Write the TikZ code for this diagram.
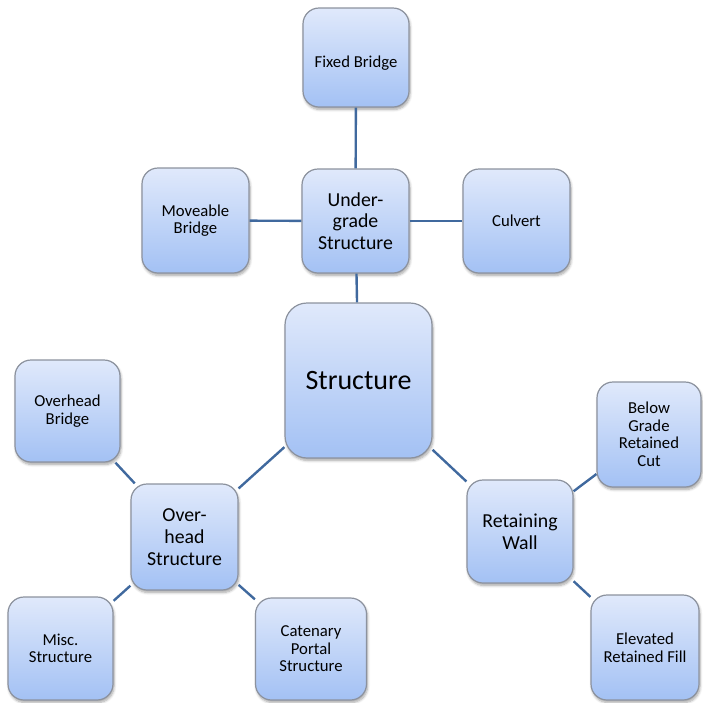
\documentclass[tikz,border=0pt]{standalone}
\usepackage{fontspec}
\setmainfont{Carlito}
\usetikzlibrary{shadows.blur}

\definecolor{boxtop}{RGB}{224,233,251}
\definecolor{boxbot}{RGB}{163,193,244}
\definecolor{boxline}{RGB}{140,146,158}
\definecolor{linkblue}{RGB}{64,105,158}

\tikzset{
  box/.style={draw=boxline, line width=1.2pt, rounded corners=16pt,
    top color=boxtop, bottom color=boxbot, align=center, inner sep=2pt,
    text=black,
    blur shadow={shadow xshift=1pt, shadow yshift=-2.5pt,
      shadow blur steps=6, shadow blur radius=2.5pt, shadow opacity=35}},
  sz/.style 2 args={minimum width=#1pt, minimum height=#2pt},
  smallbox/.style={box, font=\fontsize{16.7}{17.5}\selectfont},
  midbox/.style={box, font=\fontsize{19.8}{21.7}\selectfont},
  bigbox/.style={box, rounded corners=22pt, font=\fontsize{28}{30}\selectfont},
  link/.style={draw=linkblue, line width=2.4pt},
}

\begin{document}
\begin{tikzpicture}[x=1pt, y=-1pt]
  \useasboundingbox (0,0) rectangle (703,702);

  % central node
  \node[bigbox, sz={147}{155}] (structure) at (358.5,380.5) {Structure};

  % under-grade branch
  \node[midbox, sz={107}{104}] (under) at (355.5,221) {Under-\\grade\\Structure};
  \node[smallbox, sz={106}{99}] (fixed) at (356,57.5)
    {\raisebox{-6pt}[\height][\depth]{Fixed Bridge}};
  \node[smallbox, sz={107}{105}] (moveable) at (195.5,220.5) {Moveable\\Bridge};
  \node[smallbox, sz={107}{104}] (culvert) at (516.5,221) {Culvert};

  % overhead branch
  \node[midbox, sz={107}{106}] (overhead) at (184.5,537) {Over-\\head\\Structure};
  \node[smallbox, sz={105}{102}] (ohbridge) at (67.5,411) {Overhead\\Bridge};
  \node[smallbox, sz={105}{103}] (misc) at (60.5,648.5) {Misc.\\Structure};
  \node[smallbox, sz={111}{102}] (catenary) at (311,649) {Catenary\\Portal\\Structure};

  % retaining wall branch
  \node[midbox, sz={106}{103}] (retaining) at (520,531.5) {Retaining\\Wall};
  \node[smallbox, sz={104}{105}] (below) at (649,434.5) {Below\\Grade\\Retained\\Cut};
  \node[smallbox, sz={108}{105}] (elevated) at (645,647.5) {Elevated\\Retained Fill};

  % connectors
  \draw[link] (structure) -- (under);
  \draw[link] (under) -- (fixed);
  \draw[link] (under) -- (moveable);
  \draw[link] (under) -- (culvert);
  \draw[link] (structure) -- (overhead);
  \draw[link] (overhead) -- (ohbridge);
  \draw[link] (overhead) -- (misc);
  \draw[link] (overhead) -- (catenary);
  \draw[link] (structure) -- (retaining);
  \draw[link] (retaining) -- (below);
  \draw[link] (retaining) -- (elevated);
\end{tikzpicture}
\end{document}
